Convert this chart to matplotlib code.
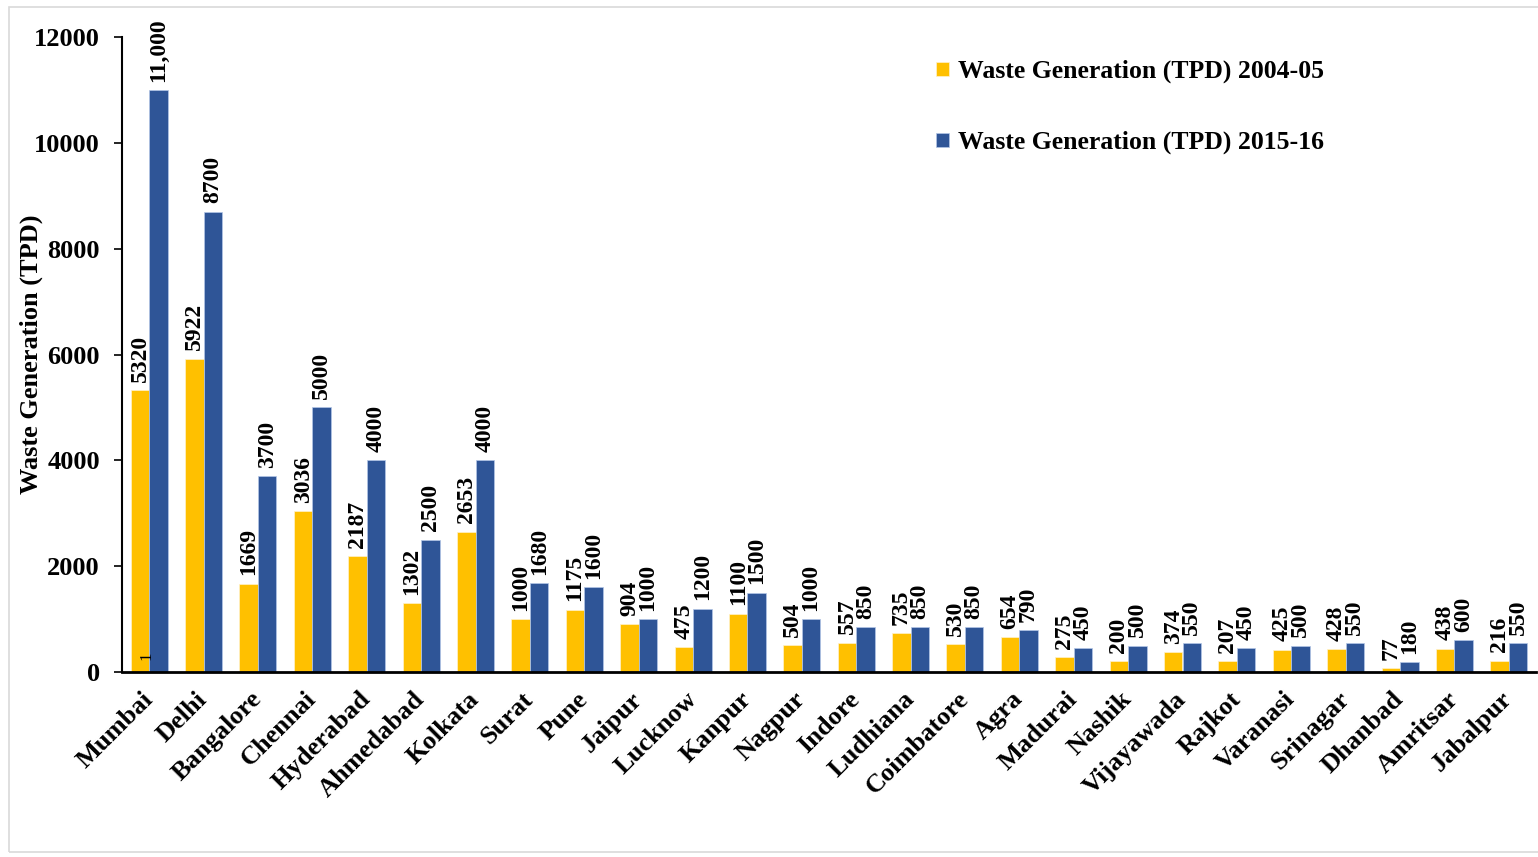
"""
Municipal solid waste generation in Indian cities, 2004-05 vs 2015-16
"""
import matplotlib
matplotlib.use('Agg')  # Non-interactive backend for saving plots
import matplotlib.pyplot as plt
from matplotlib.patches import Rectangle
import numpy as np

cities = ['Mumbai', 'Delhi', 'Bangalore', 'Chennai', 'Hyderabad', 'Ahmedabad',
          'Kolkata', 'Surat', 'Pune', 'Jaipur', 'Lucknow', 'Kanpur', 'Nagpur',
          'Indore', 'Ludhiana', 'Coimbatore', 'Agra', 'Madurai', 'Nashik',
          'Vijayawada', 'Rajkot', 'Varanasi', 'Srinagar', 'Dhanbad', 'Amritsar',
          'Jabalpur']
waste_2004 = [5320, 5922, 1669, 3036, 2187, 1302, 2653, 1000, 1175, 904, 475,
              1100, 504, 557, 735, 530, 654, 275, 200, 374, 207, 425, 428, 77,
              438, 216]
waste_2015 = [11000, 8700, 3700, 5000, 4000, 2500, 4000, 1680, 1600, 1000, 1200,
              1500, 1000, 850, 850, 850, 790, 450, 500, 550, 450, 500, 550, 180,
              600, 550]
labels_2015 = ['11,000'] + [str(v) for v in waste_2015[1:]]
yticks = [0, 2000, 4000, 6000, 8000, 10000, 12000]

plt.rcParams['font.family'] = ['Liberation Serif', 'DejaVu Serif']
plt.rcParams['font.weight'] = 'bold'

COLOR_2004 = '#FFC000'
COLOR_2015 = '#2F5597'


def main():
    fig = plt.figure(figsize=(15.38, 8.57), dpi=100)
    ax = fig.add_axes([122 / 1538, 1 - 672 / 857, 1414 / 1538, 635 / 857])

    # light grey frame around the whole chart
    fig.patches.append(Rectangle((9 / 1538, 5 / 857), 1.0, 1 - 12 / 857,
                                 transform=fig.transFigure, fill=False,
                                 edgecolor='#d9d9d9', linewidth=1.2))

    x = np.arange(len(cities))
    w = 0.34
    bars1 = ax.bar(x - w / 2, waste_2004, w, color=COLOR_2004,
                   edgecolor='#fff2cc', linewidth=0.5,
                   label='Waste Generation (TPD) 2004-05')
    bars2 = ax.bar(x + w / 2, waste_2015, w, color=COLOR_2015,
                   edgecolor='#b4c7e7', linewidth=0.5,
                   label='Waste Generation (TPD) 2015-16')

    # value labels, rotated
    for bar, value in zip(bars1, waste_2004):
        ax.annotate(str(value), (bar.get_x() + bar.get_width() / 2, bar.get_height()),
                    xytext=(0, 6), textcoords='offset points', rotation=90,
                    ha='center', va='bottom', fontsize=17, fontweight='bold')
    for bar, text in zip(bars2, labels_2015):
        ax.annotate(text, (bar.get_x() + bar.get_width() / 2, bar.get_height()),
                    xytext=(0, 6), textcoords='offset points', rotation=90,
                    ha='center', va='bottom', fontsize=17, fontweight='bold')

    # stray "1" inside the Mumbai bar
    ax.text(-0.05, 300, '1', rotation=90, ha='center', va='center',
            fontsize=12, fontweight='normal')

    ax.set_xlim(-0.5, len(cities) - 0.5)
    ax.set_ylim(0, 12000)
    ax.set_yticks(yticks)
    ax.set_xticks(x)
    ax.set_xticklabels(cities, fontsize=19, fontweight='bold')
    plt.setp(ax.get_xticklabels(), rotation=45, ha='right', va='center',
             rotation_mode='anchor')
    ax.tick_params(axis='x', length=0, pad=17)
    ax.tick_params(axis='y', length=6, width=1.2, pad=10, labelsize=19)

    ax.set_ylabel('Waste Generation (TPD)', fontsize=19, fontweight='bold')
    ax.yaxis.set_label_coords(-0.056, 0.5)

    for side in ['top', 'right']:
        ax.spines[side].set_visible(False)
    ax.spines['left'].set_linewidth(1.5)
    ax.spines['bottom'].set_linewidth(2)

    ax.legend(loc='upper left', bbox_to_anchor=(936 / 1538, 1 - 60 / 857),
              bbox_transform=fig.transFigure, frameon=False, fontsize=18.5,
              handlelength=0.5, handleheight=0.5, handletextpad=0.35,
              labelspacing=1.85, borderpad=0, borderaxespad=0)

    plt.savefig('out.png', dpi=100)
    plt.close()


if __name__ == "__main__":
    main()
